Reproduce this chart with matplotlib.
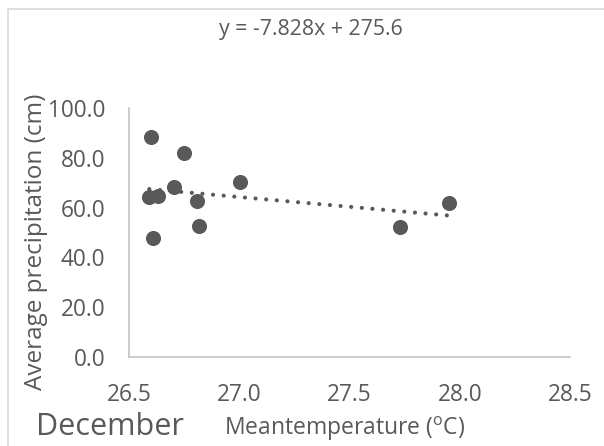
import matplotlib
matplotlib.use("Agg")
import matplotlib.pyplot as plt
import numpy as np
from matplotlib.patches import Rectangle

# December: mean temperature vs. average precipitation
temp = [26.598, 26.749, 26.704, 26.592, 26.633, 26.807, 27.003, 26.819, 26.610, 27.729, 27.951]
precip = [88.4, 82.0, 68.4, 64.1, 64.8, 62.5, 70.1, 52.8, 47.9, 52.1, 61.9]

slope = -7.828
intercept = 275.6

xticks = [26.5, 27.0, 27.5, 28.0, 28.5]
yticks = [0, 20, 40, 60, 80, 100]

grey = "#595959"
axis_grey = "#BFBFBF"

plt.rcParams["font.family"] = ["Open Sans", "DejaVu Sans"]
plt.rcParams["mathtext.fontset"] = "custom"
plt.rcParams["mathtext.rm"] = "Open Sans"

fig = plt.figure(figsize=(6.04, 4.46), dpi=100)
ax = fig.add_axes([129 / 604, 89 / 446, 441 / 604, 249 / 446])

# chart frame
fig.patches.append(Rectangle((8 / 604, -0.1), 1.1, (446 - 9) / 446 + 0.1,
                             transform=fig.transFigure, fill=False,
                             edgecolor="#D9D9D9", linewidth=1.2))

ax.scatter(temp, precip, s=118, color=grey, zorder=3, linewidths=0)

# linear trendline
xl = np.array([min(temp), max(temp)])
ax.plot(xl, slope * xl + intercept, color=grey, linewidth=3,
        linestyle=(0, (0.01, 2.55)), dash_capstyle="round", zorder=2)

ax.set_xlim(26.5, 28.5)
ax.set_ylim(0, 100)
ax.set_xticks(xticks)
ax.set_yticks(yticks)
ax.set_xticklabels([f"{t:.1f}" for t in xticks])
ax.set_yticklabels([f"{t:.1f}" for t in yticks])
ax.tick_params(length=0, labelsize=16.3, colors=grey)
ax.tick_params(axis="x", pad=19)
ax.tick_params(axis="y", pad=17)

for s in ["top", "right"]:
    ax.spines[s].set_visible(False)
for s in ["left", "bottom"]:
    ax.spines[s].set_color(axis_grey)
    ax.spines[s].set_linewidth(1.1)

fig.text(36 / 604, 1 - 242 / 446, "Average precipitation (cm)", rotation=90,
         ha="center", va="center", fontsize=17.5, color=grey)
fig.text(345 / 604, 1 - 435 / 446, r"Meantemperature ($^{\mathrm{o}}$C)",
         ha="center", va="baseline", fontsize=16.5, color=grey)
fig.text(110 / 604, 1 - 435 / 446, "December", ha="center", va="baseline",
         fontsize=22, color=grey)
fig.text(311 / 604, 1 - 35 / 446, "y = -7.828x + 275.6", ha="center",
         va="baseline", fontsize=15.3, color=grey)

fig.savefig("out.png", dpi=100, facecolor="white")
